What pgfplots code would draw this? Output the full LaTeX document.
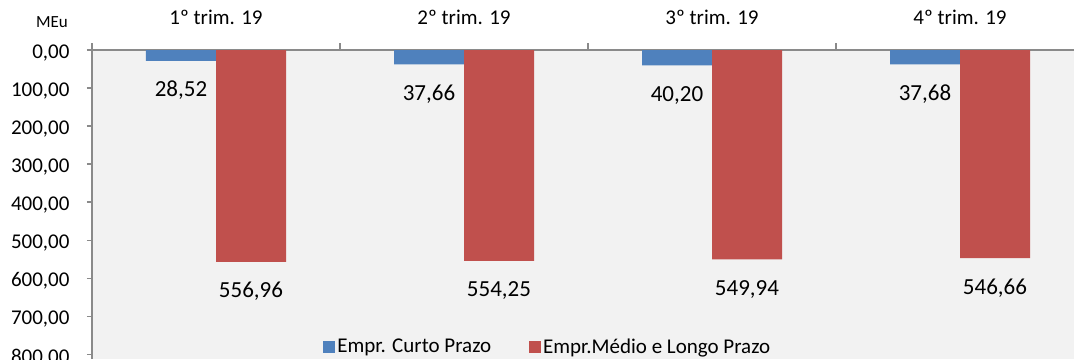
\documentclass[border=0pt]{standalone}
\usepackage{fontspec}
\setmainfont{Carlito}
\usepackage{pgfplots}
\pgfplotsset{compat=1.18}
\definecolor{curto}{HTML}{4F81BD}
\definecolor{longo}{HTML}{C0504D}
\definecolor{plotbg}{HTML}{F2F2F2}
\definecolor{axisgray}{HTML}{8A8A8A}
\begin{document}
\begin{tikzpicture}[x=1pt,y=1pt]
\path[use as bounding box] (0,0) rectangle (1074,359);
\clip (0,0) rectangle (1074,359);
\node[font=\fontsize{17}{20}\selectfont, anchor=base] at (52,331) {MEu};
\begin{axis}[
  at={(92pt,309pt)}, anchor=north west,
  scale only axis, width=992pt, height=309pt,
  xmin=-0.5, xmax=3.5, ymin=0, ymax=812,
  y dir=reverse,
  axis background/.style={fill=plotbg},
  axis x line*=bottom, axis y line*=left,
  xtick pos=upper, xticklabel pos=upper,
  axis line style={axisgray, line width=1.5pt},
  tick align=outside,
  major tick length=5pt, minor tick length=7pt,
  xtick={0,1,2,3},
  xticklabels={1º trim. 19, 2º trim. 19, 3º trim. 19, 4º trim. 19},
  major x tick style={draw=none},
  minor xtick={-0.5,0.5,1.5,2.5,3.5},
  minor x tick style={axisgray, line width=1.5pt},
  ytick={0,100,...,800},
  ytick style={axisgray, line width=1.5pt},
  xticklabel style={font=\fontsize{21}{25}\selectfont, anchor=base, yshift=21pt},
  yticklabel style={font=\fontsize{21}{25}\selectfont, anchor=base east, xshift=-14pt, yshift=-8.6pt},
  /pgf/number format/use comma,
  /pgf/number format/fixed,
  /pgf/number format/fixed zerofill,
  /pgf/number format/precision=2,
  /pgf/number format/1000 sep={},
  /pgf/number format/assume math mode=true,
  ybar, bar width=70pt,
  nodes near coords,
  every node near coord/.append style={font=\fontsize{23}{27}\selectfont, anchor=base, yshift=-36pt, black},
  legend style={at={(axis description cs:0.23,0.0)}, anchor=south west, draw=none, fill=none,
    font=\fontsize{21}{25}\selectfont, legend columns=2,
    /tikz/every even column/.append style={column sep=36pt}},
  legend cell align=left,
]
\addplot[fill=curto, draw=none, bar shift=-35pt,
  legend image code/.code={\fill[curto] (-2pt,-6pt) rectangle (10pt,6pt);}]
  coordinates {(0,28.52) (1,37.66) (2,40.20) (3,37.68)};
\addlegendentry{Empr. Curto Prazo}
\addplot[fill=longo, draw=none, bar shift=35pt,
  legend image code/.code={\fill[longo] (-2pt,-6pt) rectangle (10pt,6pt);}]
  coordinates {(0,556.96) (1,554.25) (2,549.94) (3,546.66)};
\addlegendentry{Empr.Médio e Longo Prazo}
\end{axis}
\end{tikzpicture}
\end{document}
